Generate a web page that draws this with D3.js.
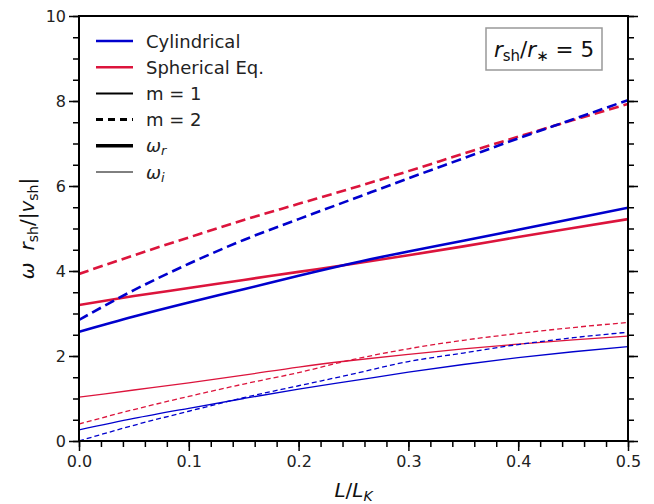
<!DOCTYPE html>
<html>
<head>
<meta charset="utf-8">
<script src="https://cdn.jsdelivr.net/npm/d3@7"></script>
<style>
  body { margin: 0; background: #fff; }
  svg text { font-family: "DejaVu Sans", sans-serif; }
</style>
</head>
<body>
<div id="chart"></div>
<script>
// L / L_K sample points
var lRatio = [0, 0.05, 0.1, 0.15, 0.2, 0.25, 0.3, 0.35, 0.4, 0.45, 0.5];

// real parts (thick)
var cylM1Re = [2.57, 2.93, 3.26, 3.57, 3.89, 4.19, 4.46, 4.71, 4.97, 5.23, 5.49];
var sphM1Re = [3.2, 3.41, 3.6, 3.79, 3.98, 4.17, 4.37, 4.58, 4.8, 5.01, 5.22];
var cylM2Re = [2.85, 3.55, 4.17, 4.73, 5.22, 5.7, 6.18, 6.65, 7.12, 7.57, 8.02];
var sphM2Re = [3.93, 4.37, 4.79, 5.2, 5.58, 5.96, 6.35, 6.76, 7.16, 7.55, 7.93];

// imaginary parts (thin)
var cylM1Im = [0.26, 0.53, 0.77, 1.0, 1.22, 1.42, 1.62, 1.8, 1.96, 2.1, 2.22];
var sphM1Im = [1.03, 1.2, 1.37, 1.55, 1.74, 1.9, 2.04, 2.17, 2.28, 2.38, 2.47];
var cylM2Im = [0.0, 0.37, 0.7, 1.02, 1.3, 1.58, 1.87, 2.07, 2.27, 2.43, 2.56];
var sphM2Im = [0.4, 0.74, 1.05, 1.34, 1.61, 1.92, 2.17, 2.37, 2.53, 2.67, 2.79];

var xTicks = [0, 0.1, 0.2, 0.3, 0.4, 0.5];
var yTicks = [0, 2, 4, 6, 8, 10];

var blue = "#0000cd";
var red = "#dc143c";

var width = 654, height = 504;
var margin = {left: 79, right: 26, top: 16, bottom: 63};

var svg = d3.select("#chart").append("svg")
    .attr("width", width)
    .attr("height", height);

var x = d3.scaleLinear().domain([0, 0.5]).range([margin.left, width - margin.right]);
var y = d3.scaleLinear().domain([0, 10]).range([height - margin.bottom, margin.top]);

var series = [
  {v: sphM1Im, c: red, w: 1.3, dash: null},
  {v: sphM2Im, c: red, w: 1.3, dash: "5,3"},
  {v: cylM1Im, c: blue, w: 1.3, dash: null},
  {v: cylM2Im, c: blue, w: 1.3, dash: "5,3"},
  {v: sphM1Re, c: red, w: 2.6, dash: null},
  {v: cylM1Re, c: blue, w: 2.6, dash: null},
  {v: sphM2Re, c: red, w: 2.6, dash: "10,5"},
  {v: cylM2Re, c: blue, w: 2.6, dash: "10,5"}
];

var line = d3.line()
    .x(function(d, i) { return x(lRatio[i]); })
    .y(function(d) { return y(d); })
    .curve(d3.curveMonotoneX);

svg.append("defs").append("clipPath").attr("id", "clip")
  .append("rect")
    .attr("x", margin.left).attr("y", margin.top)
    .attr("width", width - margin.left - margin.right)
    .attr("height", height - margin.top - margin.bottom);

svg.append("g").attr("clip-path", "url(#clip)")
  .selectAll("path")
  .data(series)
  .enter()
  .append("path")
    .attr("d", function(s) { return line(s.v); })
    .attr("fill", "none")
    .attr("stroke", function(s) { return s.c; })
    .attr("stroke-width", function(s) { return s.w; })
    .attr("stroke-dasharray", function(s) { return s.dash; });

// axes
var xMinor = d3.range(0, 0.5001, 0.02);
var yMinor = d3.range(0, 10.001, 0.5);

svg.append("g")
    .attr("transform", "translate(0," + y(0) + ")")
    .call(d3.axisBottom(x).tickValues(xMinor).tickSize(6).tickFormat(""));
svg.append("g")
    .attr("transform", "translate(0," + y(0) + ")")
    .call(d3.axisBottom(x).tickValues(xTicks).tickSize(10).tickPadding(5).tickFormat(d3.format(".1f")));

svg.append("g")
    .attr("transform", "translate(" + x(0) + ",0)")
    .call(d3.axisLeft(y).tickValues(yMinor).tickSize(6).tickFormat(""));
svg.append("g")
    .attr("transform", "translate(" + x(0) + ",0)")
    .call(d3.axisLeft(y).tickValues(yTicks).tickSize(10).tickPadding(3).tickFormat(d3.format("d")));

svg.append("g")
    .attr("transform", "translate(" + x(0.5) + ",0)")
    .call(d3.axisRight(y).tickValues(yMinor).tickSize(6).tickFormat(""));
svg.append("g")
    .attr("transform", "translate(" + x(0.5) + ",0)")
    .call(d3.axisRight(y).tickValues(yTicks).tickSize(10).tickFormat(""));

svg.selectAll(".domain").remove();
svg.selectAll(".tick line").attr("stroke", "#000").attr("stroke-width", 1.5);
svg.selectAll(".tick text").attr("font-size", 16).attr("fill", "#222")
    .style("font-family", "'DejaVu Sans', sans-serif");

svg.append("rect")
    .attr("x", x(0)).attr("y", y(10))
    .attr("width", x(0.5) - x(0)).attr("height", y(0) - y(10))
    .attr("fill", "none").attr("stroke", "#000").attr("stroke-width", 2);

// legend
var legend = [
  {t: "Cylindrical", c: blue, w: 2.5, dash: null},
  {t: "Spherical Eq.", c: red, w: 2.5, dash: null},
  {t: "m = 1", c: "#000", w: 2, dash: null},
  {t: "m = 2", c: "#000", w: 3, dash: "7,5"},
  {t: "ωr", c: "#000", w: 3.5, dash: null},
  {t: "ωi", c: "#000", w: 1, dash: null}
];
var lg = svg.append("g");
legend.forEach(function(d, i) {
  var yy = 41 + i * 26.2;
  lg.append("line")
    .attr("x1", 96).attr("x2", 133).attr("y1", yy).attr("y2", yy)
    .attr("stroke", d.c).attr("stroke-width", d.w)
    .attr("stroke-dasharray", d.dash);
  var t = lg.append("text").attr("x", 146).attr("y", yy + 6.5)
    .attr("font-size", 18).attr("fill", "#222");
  if (d.t.charAt(0) === "ω") {
    t.append("tspan").attr("font-style", "italic").text("ω");
    t.append("tspan").attr("font-style", "italic").attr("font-size", 13).attr("dy", 3).text(d.t.charAt(1));
  } else {
    t.text(d.t);
  }
});

// annotation box
svg.append("rect")
    .attr("x", 486).attr("y", 28).attr("width", 116).attr("height", 42)
    .attr("fill", "#fff").attr("stroke", "#999").attr("stroke-width", 1.5);
var ann = svg.append("text").attr("x", 544).attr("y", 57)
    .attr("text-anchor", "middle").attr("font-size", 21.5).attr("fill", "#111");
ann.append("tspan").attr("font-style", "italic").text("r");
ann.append("tspan").attr("font-size", 15).attr("dy", 4).text("sh");
ann.append("tspan").attr("dy", -4).text("/");
ann.append("tspan").attr("font-style", "italic").text("r");
ann.append("tspan").attr("font-size", 15).attr("dy", 4).text("∗");
ann.append("tspan").attr("dy", -4).text(" = 5");

// axis labels
var xl = svg.append("text").attr("x", x(0.25)).attr("y", 497)
    .attr("text-anchor", "middle").attr("font-size", 20).attr("fill", "#111");
xl.append("tspan").attr("font-style", "italic").text("L");
xl.append("tspan").text("/");
xl.append("tspan").attr("font-style", "italic").text("L");
xl.append("tspan").attr("font-style", "italic").attr("font-size", 14).attr("dy", 4).text("K");

var yl = svg.append("text")
    .attr("transform", "translate(34," + y(5) + ") rotate(-90)")
    .attr("text-anchor", "middle").attr("font-size", 20).attr("fill", "#111");
yl.append("tspan").attr("font-style", "italic").text("ω");
yl.append("tspan").attr("dx", 12).attr("font-style", "italic").text("r");
yl.append("tspan").attr("font-size", 14).attr("dy", 4).text("sh");
yl.append("tspan").attr("dy", -4).text("/|");
yl.append("tspan").attr("font-style", "italic").text("v");
yl.append("tspan").attr("font-size", 14).attr("dy", 4).text("sh");
yl.append("tspan").attr("dy", -4).text("|");
</script>
</body>
</html>
